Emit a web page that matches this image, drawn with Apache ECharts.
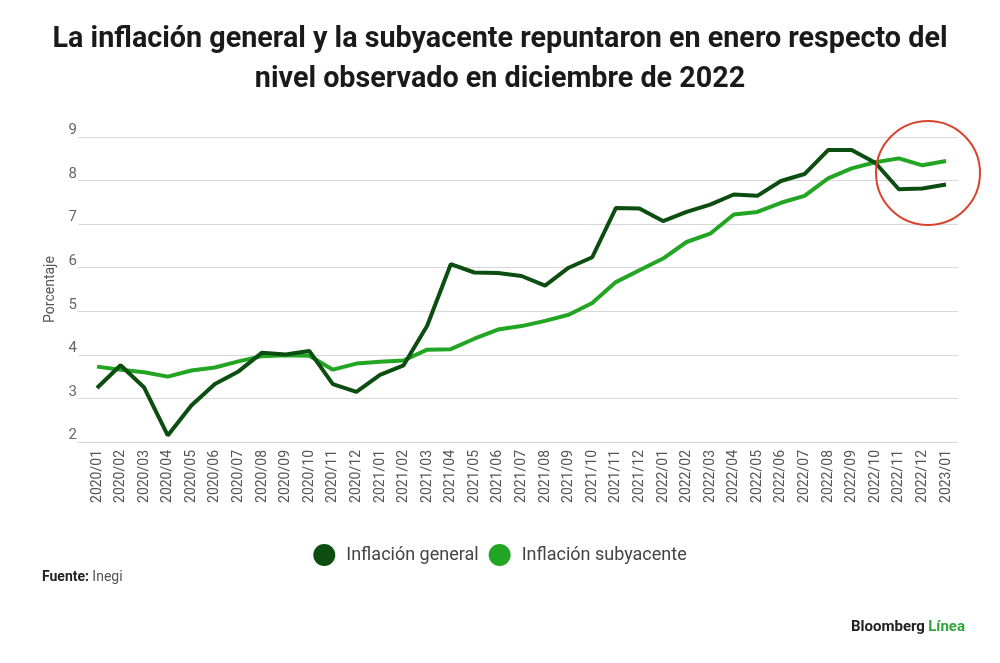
<!DOCTYPE html>
<html>
<head>
<meta charset="utf-8">
<script src="https://cdn.jsdelivr.net/npm/echarts@6/dist/echarts.min.js"></script>
<style>
  html, body { margin: 0; padding: 0; background: #fff; }
  #chart { width: 1000px; height: 663px; }
</style>
</head>
<body>
<div id="chart"></div>
<script>
// ── datos ──────────────────────────────────────────
const months = [
  "2020/01","2020/02","2020/03","2020/04","2020/05","2020/06","2020/07","2020/08","2020/09","2020/10","2020/11","2020/12",
  "2021/01","2021/02","2021/03","2021/04","2021/05","2021/06","2021/07","2021/08","2021/09","2021/10","2021/11","2021/12",
  "2022/01","2022/02","2022/03","2022/04","2022/05","2022/06","2022/07","2022/08","2022/09","2022/10","2022/11","2022/12",
  "2023/01"
];
const inflacionGeneral = [
  3.24, 3.76, 3.25, 2.15, 2.84, 3.33, 3.62, 4.05, 4.01, 4.09, 3.33, 3.15,
  3.54, 3.76, 4.67, 6.08, 5.89, 5.88, 5.81, 5.59, 6.00, 6.24, 7.37, 7.36,
  7.07, 7.28, 7.45, 7.68, 7.65, 7.99, 8.15, 8.70, 8.70, 8.41, 7.80, 7.82,
  7.91
];
const inflacionSubyacente = [
  3.73, 3.66, 3.60, 3.50, 3.64, 3.71, 3.85, 3.97, 3.99, 3.98, 3.66, 3.80,
  3.84, 3.87, 4.12, 4.13, 4.37, 4.58, 4.66, 4.78, 4.92, 5.19, 5.67, 5.94,
  6.21, 6.59, 6.78, 7.22, 7.28, 7.49, 7.65, 8.05, 8.28, 8.42, 8.51, 8.35,
  8.45
];
const yTicks = { min: 2, max: 9, interval: 1 };

const titleLines = [
  "La inflación general y la subyacente repuntaron en enero respecto del",
  "nivel observado en diciembre de 2022"
];

// ── título comprimido (la fuente original es condensada) ──
const TITLE_FONT = "bold 30px Roboto, 'Noto Sans', sans-serif";
const ctx = document.createElement("canvas").getContext("2d");
ctx.font = TITLE_FONT;
const titleScale = 895 / ctx.measureText(titleLines[0]).width;

const chart = echarts.init(document.getElementById("chart"));

chart.setOption({
  backgroundColor: "#fff",
  animation: false,
  textStyle: { fontFamily: "Roboto, 'Noto Sans', sans-serif" },
  legend: {
    top: 539,
    left: "center",
    icon: "circle",
    itemWidth: 22,
    itemHeight: 22,
    itemGap: 10,
    textStyle: { fontSize: 18, color: "#444", padding: [0, 0, 0, 6] },
    data: ["Inflación general", "Inflación subyacente"]
  },
  grid: [
    { left: 78, right: 42, top: 137, bottom: 221 },
    { left: 97, right: 54, top: 137, bottom: 221 }
  ],
  xAxis: [
    { gridIndex: 0, type: "value", show: false, min: 0, max: 1 },
    {
      gridIndex: 1,
      type: "category",
      data: months,
      boundaryGap: false,
      axisLine: { show: false },
      axisTick: { show: false },
      axisLabel: { rotate: 90, fontSize: 14, color: "#555", margin: 8, interval: 0 }
    }
  ],
  yAxis: [
    {
      gridIndex: 0,
      type: "value",
      ...yTicks,
      name: "Porcentaje",
      nameLocation: "middle",
      nameGap: 17,
      nameTextStyle: { fontSize: 14, color: "#555" },
      axisLine: { show: false },
      axisTick: { show: false },
      axisLabel: { fontSize: 15, color: "#666", align: "right", verticalAlign: "bottom", margin: 1, padding: [0, 0, -1, 0] },
      splitLine: { lineStyle: { color: "#d8d8d8", width: 1 } }
    },
    { gridIndex: 1, type: "value", ...yTicks, show: false, splitLine: { show: false } }
  ],
  series: [
    {
      name: "Inflación general",
      type: "line",
      xAxisIndex: 1, yAxisIndex: 1,
      data: inflacionGeneral,
      symbol: "none",
      lineStyle: { width: 4, color: "#0c4d10" },
      itemStyle: { color: "#0c4d10" },
      z: 3
    },
    {
      name: "Inflación subyacente",
      type: "line",
      xAxisIndex: 1, yAxisIndex: 1,
      data: inflacionSubyacente,
      symbol: "none",
      lineStyle: { width: 4, color: "#22a522" },
      itemStyle: { color: "#22a522" },
      z: 2
    }
  ],
  graphic: [
    {
      type: "text", x: 500, y: 39, scaleX: titleScale,
      style: { text: titleLines[0], font: TITLE_FONT, fill: "#1a1a1a", align: "center", verticalAlign: "middle" }
    },
    {
      type: "text", x: 500, y: 79, scaleX: titleScale,
      style: { text: titleLines[1], font: TITLE_FONT, fill: "#1a1a1a", align: "center", verticalAlign: "middle" }
    },
    {
      // círculo rojo que señala el cierre de la serie
      type: "circle",
      shape: { cx: 928, cy: 173, r: 52 },
      style: { fill: "none", stroke: "#d9442f", lineWidth: 2 },
      z: 10
    },
    {
      type: "text", x: 42, y: 577,
      style: {
        text: "{b|Fuente:} {n|Inegi}",
        verticalAlign: "middle",
        rich: {
          b: { fontWeight: "bold", fontSize: 14, fill: "#222", fontFamily: "Roboto" },
          n: { fontSize: 14, fill: "#555", fontFamily: "Roboto" }
        }
      }
    },
    {
      type: "text", x: 965, y: 627,
      style: {
        text: "{b|Bloomberg} {l|Línea}",
        align: "right",
        verticalAlign: "middle",
        rich: {
          b: { fontWeight: "bold", fontSize: 15, fill: "#222", fontFamily: "Roboto" },
          l: { fontWeight: "bold", fontSize: 15, fill: "#2ea63a", fontFamily: "Roboto" }
        }
      }
    }
  ]
});
</script>
</body>
</html>
